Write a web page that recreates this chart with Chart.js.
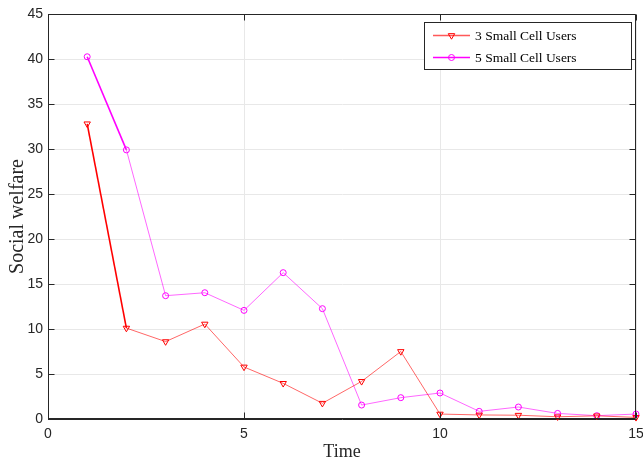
<!DOCTYPE html>
<html>
<head>
<meta charset="utf-8">
<script src="https://cdn.jsdelivr.net/npm/chart.js@4/dist/chart.umd.min.js"></script>
<style>
html,body{margin:0;padding:0;background:#fff;}
#wrap{width:643px;height:460px;}
</style>
</head>
<body>
<div id="wrap"><canvas id="c" width="643" height="460"></canvas></div>
<script>
// ---- data ----
const times = [1, 2, 3, 4, 5, 6, 7, 8, 9, 10, 11, 12, 13, 14, 15];
const users3 = [32.8, 10.1, 8.6, 10.55, 5.78, 3.96, 1.75, 4.18, 7.5, 0.55, 0.45, 0.42, 0.25, 0.35, 0.18];
const users5 = [40.25, 29.9, 13.7, 14.03, 12.07, 16.26, 12.26, 1.55, 2.37, 2.89, 0.85, 1.33, 0.62, 0.37, 0.55];
const seriesLabels = ['3 Small Cell Users', '5 Small Cell Users'];
const xTicks = [0, 5, 10, 15];
const yTicks = [0, 5, 10, 15, 20, 25, 30, 35, 40, 45];
const xTitle = 'Time';
const yTitle = 'Social welfare';

const AX = '#262626';
const SANS = '"Liberation Sans", Arial, Helvetica, sans-serif';
const SERIF = '"Liberation Serif", "Times New Roman", Times, serif';

function pts(ys){ return times.map((t,i)=>({x:t,y:ys[i]})); }

const frame = {
  id: 'frame',
  afterDatasetsDraw(chart){
    const ctx = chart.ctx, a = chart.chartArea;
    const xs = chart.scales.x, ys = chart.scales.y;
    const L = Math.round(a.left)+0.5, R = Math.round(a.right)-0.5, T = Math.round(a.top)+0.5, B = Math.round(a.bottom)-0.5;
    ctx.save();
    ctx.strokeStyle = AX; ctx.lineWidth = 1;
    ctx.beginPath();
    ctx.moveTo(L,T); ctx.lineTo(R,T); ctx.lineTo(R,B); ctx.lineTo(L,B); ctx.closePath();
    const tl = 6;
    xTicks.forEach(v=>{
      const p = Math.round(xs.getPixelForValue(v))+0.5;
      ctx.moveTo(p,B); ctx.lineTo(p,B-tl);
      ctx.moveTo(p,T); ctx.lineTo(p,T+tl);
    });
    yTicks.forEach(v=>{
      const p = Math.round(ys.getPixelForValue(v))+0.5;
      ctx.moveTo(L,p); ctx.lineTo(L+tl,p);
      ctx.moveTo(R,p); ctx.lineTo(R-tl,p);
    });
    ctx.stroke();
    ctx.restore();
  },
  afterDraw(chart){
    const ctx = chart.ctx, a = chart.chartArea;
    ctx.save();
    // axis titles
    ctx.fillStyle = AX;
    ctx.font = '18px ' + SERIF;
    ctx.textAlign = 'center';
    ctx.textBaseline = 'alphabetic';
    ctx.fillText(xTitle, (a.left+a.right)/2, 457);
    ctx.save();
    ctx.translate(23, (a.top+a.bottom)/2);
    ctx.rotate(-Math.PI/2);
    ctx.font = '20px ' + SERIF;
    ctx.fillText(yTitle, 0, 0);
    ctx.restore();
    // legend
    const bx = 424.5, by = 22.5, bw = 207, bh = 47;
    ctx.fillStyle = '#fff';
    ctx.fillRect(bx, by, bw, bh);
    ctx.strokeStyle = AX; ctx.lineWidth = 1;
    ctx.strokeRect(bx, by, bw, bh);
    const rows = [35.5, 57.5];
    const ds = chart.data.datasets;
    rows.forEach((ry,i)=>{
      const d = ds[i];
      ctx.strokeStyle = d.legendLine;
      ctx.lineWidth = 1.5;
      ctx.beginPath(); ctx.moveTo(433, ry); ctx.lineTo(470, ry); ctx.stroke();
      ctx.strokeStyle = d.pointBorderColor;
      ctx.lineWidth = 1;
      if (i === 0) {
        const r = 3.7;
        ctx.beginPath();
        for (let k=0;k<3;k++){
          const ang = Math.PI + k*2*Math.PI/3;
          const px = 451.5 + Math.sin(ang)*r, py = ry - Math.cos(ang)*r;
          if(k===0) ctx.moveTo(px,py); else ctx.lineTo(px,py);
        }
        ctx.closePath(); ctx.stroke();
      } else {
        ctx.beginPath(); ctx.arc(451.5, ry, 3, 0, Math.PI*2); ctx.stroke();
      }
      ctx.fillStyle = '#000';
      ctx.font = '13.5px ' + SERIF;
      ctx.textAlign = 'left';
      ctx.textBaseline = 'middle';
      ctx.fillText(d.label, 475, ry + 1);
    });
    ctx.restore();
  }
};

new Chart(document.getElementById('c'), {
  type: 'line',
  data: {
    datasets: [
      {
        label: seriesLabels[0],
        data: pts(users3),
        clip: false,
        borderColor: 'rgba(255,0,0,0.65)',
        borderWidth: 1,
        legendLine: 'rgba(255,60,60,0.85)',
        segment: {
          borderColor: c => c.p0DataIndex === 0 ? '#ff0000' : 'rgba(255,0,0,0.6)',
          borderWidth: c => c.p0DataIndex === 0 ? 1.6 : 1
        },
        pointStyle: 'triangle',
        rotation: 180,
        pointRadius: 3.7,
        pointBorderWidth: 1,
        pointBorderColor: '#ff0000',
        pointBackgroundColor: 'rgba(0,0,0,0)',
        tension: 0
      },
      {
        label: seriesLabels[1],
        data: pts(users5),
        clip: false,
        borderColor: 'rgba(255,0,255,0.6)',
        borderWidth: 1,
        legendLine: '#ff00ff',
        segment: {
          borderColor: c => c.p0DataIndex === 0 ? '#ff00ff' : 'rgba(255,0,255,0.6)',
          borderWidth: c => c.p0DataIndex === 0 ? 1.6 : 1
        },
        pointStyle: 'circle',
        pointRadius: 3,
        pointBorderWidth: 1,
        pointBorderColor: '#ff00ff',
        pointBackgroundColor: 'rgba(0,0,0,0)',
        tension: 0
      }
    ]
  },
  options: {
    responsive: false,
    animation: false,
    devicePixelRatio: 1,
    layout: { padding: { top: 14, right: 7, left: 0, bottom: 0 } },
    plugins: { legend: { display: false }, tooltip: { enabled: false }, title: { display: false } },
    scales: {
      x: {
        type: 'linear', min: 0, max: 15,
        afterFit: s => { s.height = 41; s.paddingLeft = 0; s.paddingRight = 0; },
        afterBuildTicks: s => { s.ticks = xTicks.map(v => ({ value: v })); },
        ticks: { color: AX, font: { size: 14, family: SANS }, padding: 7, maxRotation: 0 },
        grid: { color: '#e8e8e8', lineWidth: 1, drawTicks: false },
        border: { color: AX, width: 1 }
      },
      y: {
        type: 'linear', min: 0, max: 45,
        afterFit: s => { s.width = 48; s.paddingTop = 0; s.paddingBottom = 0; },
        afterBuildTicks: s => { s.ticks = yTicks.map(v => ({ value: v })); },
        ticks: { color: AX, font: { size: 14, family: SANS }, padding: 5 },
        grid: { color: '#e8e8e8', lineWidth: 1, drawTicks: false },
        border: { color: AX, width: 1 }
      }
    }
  },
  plugins: [frame]
});
</script>
</body>
</html>
